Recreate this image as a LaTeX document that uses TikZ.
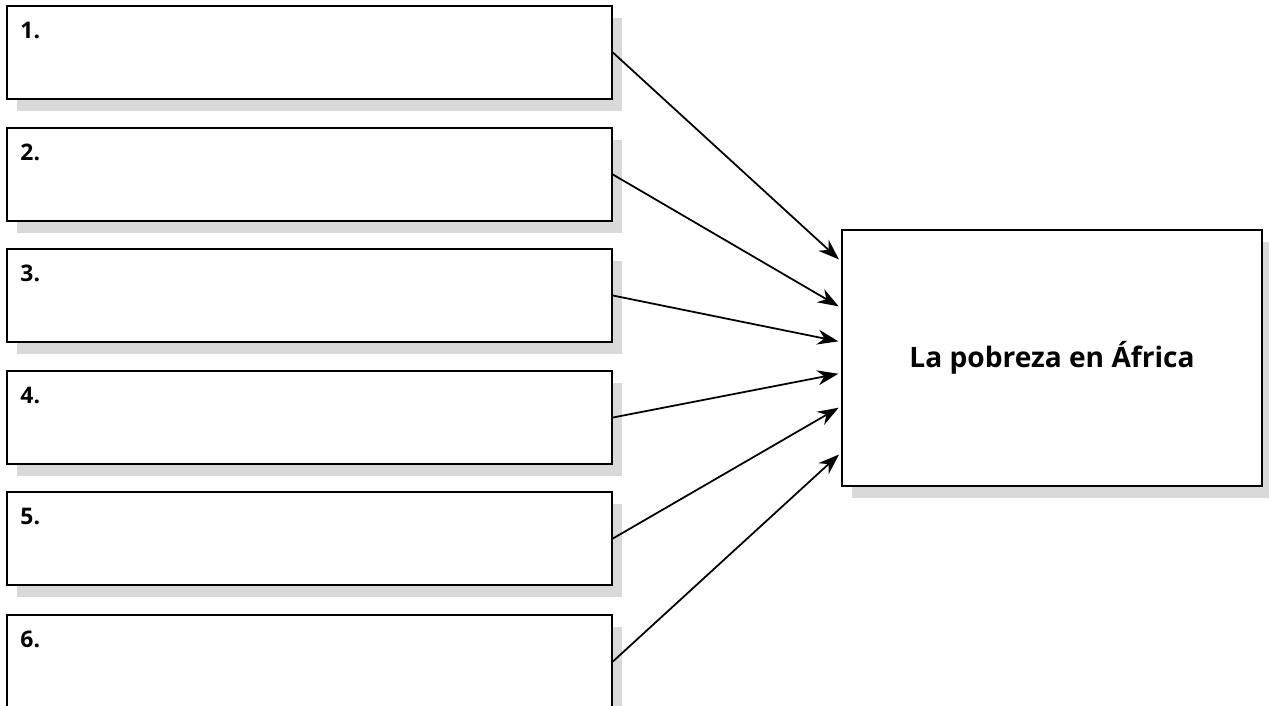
\documentclass[tikz,border=0pt]{standalone}
\usepackage{fontspec}
\setmainfont{Open Sans}
\usetikzlibrary{arrows.meta,shadows,calc}

\definecolor{shadowgray}{RGB}{217,217,217}

\tikzset{
  entrybox/.style={draw, line width=1pt, fill=white, minimum width=12.1cm,
    minimum height=1.86cm,
    drop shadow={shadow xshift=0.2cm, shadow yshift=-0.24cm, fill=shadowgray, opacity=1}},
  topicbox/.style={draw, line width=1.2pt, fill=white, minimum width=8.4cm,
    minimum height=5.12cm, font=\bfseries\fontsize{16}{20}\selectfont,
    drop shadow={shadow xshift=0.2cm, shadow yshift=-0.24cm, fill=shadowgray, opacity=1}},
  numlabel/.style={anchor=base west, inner sep=0pt, font=\bfseries\fontsize{13}{16}\selectfont},
  link/.style={line width=1pt, -{Stealth[length=0.42cm, width=0.3cm]}, shorten >=1.5pt}
}

\begin{document}
\begin{tikzpicture}
  \useasboundingbox (0,0) rectangle (25.38,-14.1);

  % boxes on the left
  \node[entrybox] (b1) at (6.19,-1.05) {};
  \node[entrybox] (b2) at (6.19,-3.49) {};
  \node[entrybox] (b3) at (6.19,-5.91) {};
  \node[entrybox] (b4) at (6.19,-8.35) {};
  \node[entrybox] (b5) at (6.19,-10.77) {};
  \node[entrybox] (b6) at (6.19,-13.23) {};

  \node[numlabel] (n1) at ($(b1.north west)+(0.28,-0.66)$) {1.};
  \node[numlabel] (n2) at ($(b2.north west)+(0.28,-0.66)$) {2.};
  \node[numlabel] (n3) at ($(b3.north west)+(0.28,-0.66)$) {3.};
  \node[numlabel] (n4) at ($(b4.north west)+(0.28,-0.66)$) {4.};
  \node[numlabel] (n5) at ($(b5.north west)+(0.28,-0.66)$) {5.};
  \node[numlabel] (n6) at ($(b6.north west)+(0.28,-0.66)$) {6.};

  % topic box
  \node[topicbox] (topic) at (21.04,-7.16) {La pobreza en África};

  \coordinate (t1) at ($(topic.north west)!0.125!(topic.south west)$);
  \coordinate (t2) at ($(topic.north west)!0.305!(topic.south west)$);
  \coordinate (t3) at ($(topic.north west)!0.4375!(topic.south west)$);
  \coordinate (t4) at ($(topic.north west)!0.559!(topic.south west)$);
  \coordinate (t5) at ($(topic.north west)!0.6875!(topic.south west)$);
  \coordinate (t6) at ($(topic.north west)!0.867!(topic.south west)$);

  \draw[link] (b1.east) -- (t1);
  \draw[link] (b2.east) -- (t2);
  \draw[link] (b3.east) -- (t3);
  \draw[link] (b4.east) -- (t4);
  \draw[link] (b5.east) -- (t5);
  \draw[link] (b6.east) -- (t6);
\end{tikzpicture}
\end{document}
